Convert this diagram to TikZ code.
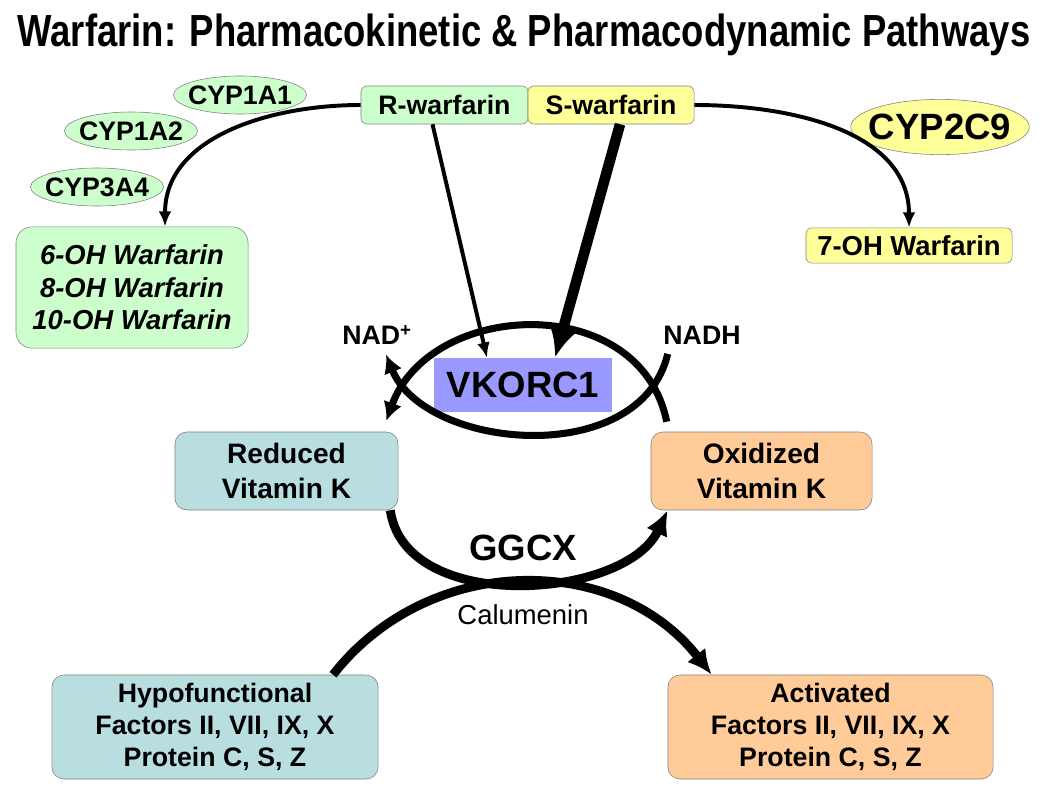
\documentclass[tikz,border=0pt]{standalone}
\usepackage{fontspec}
\setmainfont{Liberation Sans}
\newfontfamily\narrowfont{Liberation Sans}[FakeStretch=0.81]
\usetikzlibrary{shapes, arrows.meta, positioning}

\definecolor{rgreen}{HTML}{CCFFCC}
\definecolor{syellow}{HTML}{FFFF99}
\definecolor{vkteal}{HTML}{B9DEE0}
\definecolor{vkpeach}{HTML}{FFCC99}
\definecolor{vkblue}{HTML}{9999FF}

\begin{document}
\begin{tikzpicture}[
    % GLOBAL CFG
    x=0.025cm, y=-0.025cm,
    font=\fontsize{19}{23}\selectfont\bfseries,
    >=Latex,
    % Styles
    box/.style={% For the rounded boxes
        rectangle,
        rounded corners=3mm,
        draw=gray,
        align=center,
        inner sep=1pt,
        },
    drug/.style={% For R- and S-warfarin
        rectangle,
        rounded corners=1.5mm,
        draw=gray,
        minimum height=0.95cm,
        inner sep=1pt,
        },
    cyp/.style={% For the enzymes
        ellipse,
        draw=gray,
        fill=rgreen,
        inner xsep=-3.5pt,
        inner ysep=0pt,
        minimum height=0.95cm,
        },
    cofactor/.style={% NAD+ and NADH
        inner sep=1pt,
        },
    ArrowT/.style={% Thin arrows
        line width=2.8pt,
        -{Latex[length=0.38cm, width=0.32cm]},
        },
    ArrowS/.style={% Heavy S-warfarin arrow
        line width=7.5pt,
        -{Latex[length=0.75cm, width=0.7cm]},
        },
    ArrowC/.style={% Arrows of the cycles
        line width=5pt,
        -{Latex[length=0.46cm, width=0.48cm]},
        },
    ArrowG/.style={% Arrows of GGCX and calumenin
        line width=6.3pt,
        -{Latex[length=0.62cm, width=0.58cm]},
        }
    ]
\useasboundingbox (0,0) rectangle (1050,795);

    % Title
    \node[font=\fontsize{32}{36}\selectfont\narrowfont\bfseries] (title) at (524,35)
        {Warfarin: Pharmacokinetic \& Pharmacodynamic Pathways};

    % Draw the drugs
    \node [drug, fill=rgreen, minimum width=4.175cm] (rwarf) at (444.5,105) {R-warfarin};
    \node [drug, fill=syellow, minimum width=4.15cm] (swarf) at (611,105) {S-warfarin};

    % Draw the enzymes
    \node [cyp, minimum width=3.25cm] (cyp1a1) at (240,95) {CYP1A1};
    \node [cyp, minimum width=3.1cm] (cyp1a2) at (131,131) {CYP1A2};
    \node [cyp, minimum width=3.15cm] (cyp3a4) at (97,187) {CYP3A4};
    \node [cyp, fill=syellow, minimum width=4.4cm, minimum height=1.38cm, inner xsep=-5.7pt,
        font=\fontsize{26}{30}\selectfont\bfseries] (cyp2c9) at (940,127) {CYP2C9};

    % Draw the metabolites
    \node [box, fill=rgreen, minimum width=5.8cm, minimum height=3.03cm, rounded corners=4mm,
        font=\fontsize{19.5}{23}\selectfont\bfseries\itshape] (ohleft) at (132,287.5)
        {6-OH Warfarin\\8-OH Warfarin\\10-OH Warfarin};
    \node [box, fill=syellow, minimum width=5.15cm, minimum height=0.88cm, rounded corners=1.5mm,
        font=\fontsize{19.5}{23}\selectfont\bfseries] (ohright) at (909,245.5) {7-OH Warfarin};

    % Draw the target and cofactors
    \node [fill=vkblue, minimum width=4.45cm, minimum height=1.35cm,
        font=\fontsize{26}{30}\selectfont\bfseries] (vkorc) at (523,385) {VKORC1};
    \node [cofactor] (nadp) at (377,335) {NAD\textsuperscript{+}};
    \node [cofactor] (nadh) at (702,335) {NADH};

    % Draw vitamin K
    \node [box, fill=vkteal, minimum width=5.575cm, minimum height=1.95cm,
        font=\fontsize{20}{25}\selectfont\bfseries] (redk) at (286.5,471) {Reduced\\Vitamin K};
    \node [box, fill=vkpeach, minimum width=5.525cm, minimum height=1.95cm,
        font=\fontsize{20}{25}\selectfont\bfseries] (oxk) at (761.5,471) {Oxidized\\Vitamin K};

    % Draw the clotting factors
    \node [box, fill=vkteal, minimum width=8.15cm, minimum height=2.6cm] (hypo) at (215,727)
        {Hypofunctional\\Factors II, VII, IX, X\\Protein C, S, Z};
    \node [box, fill=vkpeach, minimum width=8.125cm, minimum height=2.6cm] (actv) at (830.5,727)
        {Activated\\Factors II, VII, IX, X\\Protein C, S, Z};

    % Labels of the carboxylation
    \node [font=\fontsize{26}{30}\selectfont\bfseries] (ggcx) at (523,548) {GGCX};
    \node [font=\fontsize{19.5}{23}\selectfont] (calu) at (523,615) {Calumenin};

% Start connecting all.
    % Metabolism
    \draw [ArrowT] (rwarf.west) to[out=180, in=90] ([xshift=0.825cm]ohleft.north);
    \draw [ArrowT] (swarf.east) to[out=0, in=90] (ohright.north);

    % Inhibition
    \draw [ArrowT] ([xshift=-0.3cm]rwarf.south) -- ([xshift=-0.9cm]vkorc.north);
    \draw [ArrowS] ([xshift=0.225cm]swarf.south) -- ([xshift=0.8cm]vkorc.north);

    % Vitamin K cycle
    \draw [ArrowC] ([xshift=0.4cm, yshift=0.25cm]oxk.north west)
        .. controls (640,290) and (430,300) .. ([xshift=-0.3cm, yshift=0.275cm]redk.north east);
    \draw [ArrowC] ([xshift=0.15cm, yshift=-0.2cm]nadh.south west)
        .. controls (640,470) and (425,450) .. ([xshift=0.225cm, yshift=-0.2cm]nadp.south);
    \draw [ArrowG] ([xshift=-0.2cm]redk.south east)
        .. controls (405,615) and (625,600) .. ([xshift=0.425cm]oxk.south west);
    \draw [ArrowG] ([xshift=2.95cm]hypo.north)
        .. controls (429,552) and (616,552) .. ([xshift=1.1cm]actv.north west);

\end{tikzpicture}
\end{document}
